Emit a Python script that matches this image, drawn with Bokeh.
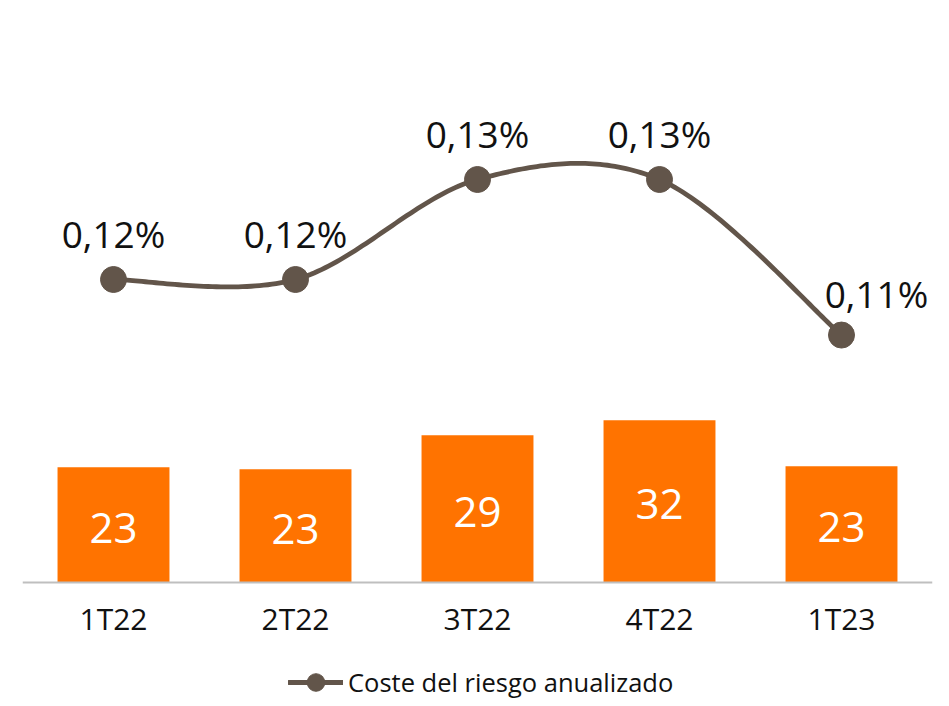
import numpy as np
from bokeh.plotting import figure
from bokeh.models import Range1d, Legend, LegendItem, ColumnDataSource, Span
from bokeh.core.properties import value
from bokeh.embed import file_html
from bokeh.resources import INLINE

# ---------------- data ----------------
categories = ["1T22", "2T22", "3T22", "4T22", "1T23"]
coste_mm = [23.0, 22.6, 29.4, 32.4, 23.2]          # bars (mill. €)
coste_riesgo = [0.117, 0.117, 0.126, 0.126, 0.112]  # line (%)
legend_label = "Coste del riesgo anualizado"

# ---------------- styles ----------------
ORANGE = "#FF7300"
BROWN = "#62554A"
FONT = "Open Sans"
TXT = "#111111"

FRAME_H = 696
ABOVE = 574        # px above baseline
BELOW = FRAME_H - ABOVE
BAR_PX = 5.01      # px per unit (bars)
LINE_PX = 11111    # px per unit (line)

xs = np.arange(len(categories), dtype=float)

p = figure(frame_width=910, frame_height=FRAME_H, output_backend="svg",
           toolbar_location=None, x_range=Range1d(-0.5, 4.5),
           y_range=Range1d(-BELOW / BAR_PX, ABOVE / BAR_PX),
           y_axis_location=None, x_axis_location=None,
           min_border_left=22, min_border_right=14, min_border_top=8,
           min_border_bottom=0)
line_lo = coste_riesgo[0] - (303 + BELOW) / LINE_PX
p.extra_y_ranges = {"line": Range1d(line_lo, line_lo + FRAME_H / LINE_PX)}
p.outline_line_color = None
p.grid.visible = False
p.background_fill_color = "white"
p.border_fill_color = "white"

# bars
bar_src = ColumnDataSource(dict(x=xs, top=coste_mm, mid=[v / 2 for v in coste_mm],
                                lab=[f"{v:.0f}" for v in coste_mm],
                                cat=categories, zero=[0] * len(xs)))
p.vbar(x="x", top="top", width=0.615, bottom=0, source=bar_src,
       fill_color=ORANGE, line_color=None)
p.text(x="x", y="mid", text="lab", source=bar_src, text_align="center",
       text_baseline="middle", text_color="white", text_font=value(FONT),
       text_font_size="42px", y_offset=3)

# category axis (baseline + labels)
p.add_layout(Span(location=0, dimension="width", line_color="#BFBFBF",
                  line_width=2))
p.text(x="x", y="zero", text="cat", source=bar_src, text_align="center",
       text_baseline="middle", text_color=TXT, text_font=value(FONT),
       text_font_size="30px", y_offset=36)

# smooth line (Catmull-Rom / Hermite through the points)
P = np.column_stack([xs, np.array(coste_riesgo)])
n = len(P)
tang = np.zeros_like(P)
for i in range(n):
    a = P[max(i - 1, 0)]
    b = P[min(i + 1, n - 1)]
    tang[i] = (b - a) / 2
sx, sy = [], []
for i in range(n - 1):
    t = np.linspace(0, 1, 50)
    h00 = 2 * t**3 - 3 * t**2 + 1
    h10 = t**3 - 2 * t**2 + t
    h01 = -2 * t**3 + 3 * t**2
    h11 = t**3 - t**2
    seg = (np.outer(h00, P[i]) + np.outer(h10, tang[i]) +
           np.outer(h01, P[i + 1]) + np.outer(h11, tang[i + 1]))
    sx.extend(seg[:, 0])
    sy.extend(seg[:, 1])

line_r = p.line(sx, sy, y_range_name="line", line_color=BROWN, line_width=4.8,
                line_join="round", line_cap="round")
sc_r = p.scatter(xs, coste_riesgo, y_range_name="line", size=26,
                 fill_color=BROWN, line_color=BROWN)

label_dx = [0, 0, 0, 0, 35]
label_dy = [46, 46, 46, 46, 42]
lab_src = ColumnDataSource(dict(
    x=xs, y=coste_riesgo,
    lab=[f"{v:.2f}".replace(".", ",") + "%" for v in coste_riesgo],
    dx=label_dx, dy=[-d for d in label_dy]))
p.text(x="x", y="y", text="lab", source=lab_src, y_range_name="line",
       x_offset="dx", y_offset="dy", text_align="center", text_baseline="middle",
       text_color=TXT, text_font=value(FONT), text_font_size="37px")

legend = Legend(items=[LegendItem(label=legend_label, renderers=[line_r, sc_r])],
                location=(266, 0), orientation="horizontal",
                border_line_color=None, background_fill_alpha=0,
                label_text_font=FONT, label_text_font_size="25.5px",
                label_text_color=TXT, glyph_width=55, glyph_height=44,
                label_height=44, label_standoff=5, padding=0, margin=0)
p.add_layout(legend, "center")

open("out.html", "w").write(file_html(p, INLINE))
